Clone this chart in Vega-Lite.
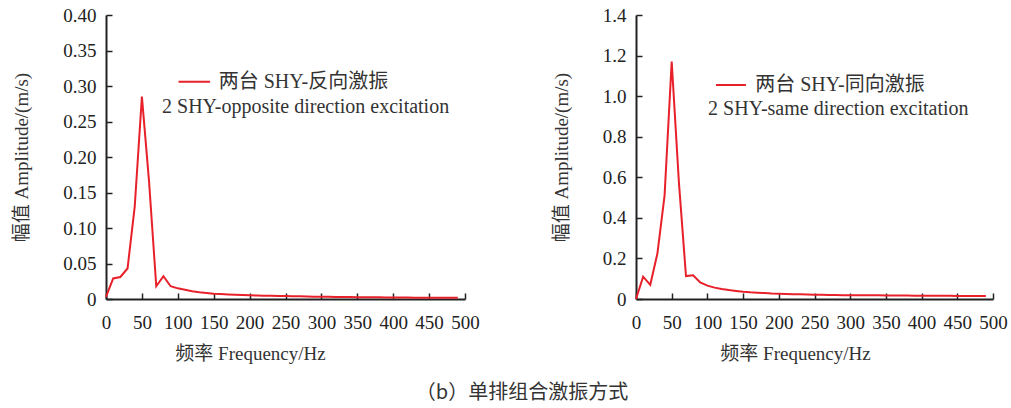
{
  "$schema": "https://vega.github.io/schema/vega-lite/v6.json",
  "background": "white",
  "padding": {"left": 12, "top": 6, "right": 5, "bottom": 5},
  "spacing": 72,
  "datasets": {
    "opp": [
      {"freq": 0, "amp": 0.003}, {"freq": 10, "amp": 0.029}, {"freq": 20, "amp": 0.031}, {"freq": 30, "amp": 0.043},
      {"freq": 40, "amp": 0.13}, {"freq": 50, "amp": 0.285}, {"freq": 60, "amp": 0.165}, {"freq": 70, "amp": 0.018},
      {"freq": 80, "amp": 0.032}, {"freq": 90, "amp": 0.018}, {"freq": 100, "amp": 0.015}, {"freq": 110, "amp": 0.013},
      {"freq": 120, "amp": 0.011}, {"freq": 130, "amp": 0.0095}, {"freq": 140, "amp": 0.0085}, {"freq": 150, "amp": 0.0075},
      {"freq": 160, "amp": 0.007}, {"freq": 170, "amp": 0.0065}, {"freq": 180, "amp": 0.006}, {"freq": 190, "amp": 0.0056},
      {"freq": 200, "amp": 0.0052}, {"freq": 210, "amp": 0.0049}, {"freq": 220, "amp": 0.0047}, {"freq": 230, "amp": 0.0045},
      {"freq": 240, "amp": 0.0043}, {"freq": 250, "amp": 0.0041}, {"freq": 260, "amp": 0.0039}, {"freq": 270, "amp": 0.0037},
      {"freq": 280, "amp": 0.0035}, {"freq": 290, "amp": 0.0033}, {"freq": 300, "amp": 0.0031}, {"freq": 310, "amp": 0.003},
      {"freq": 320, "amp": 0.0029}, {"freq": 330, "amp": 0.0028}, {"freq": 340, "amp": 0.0027}, {"freq": 350, "amp": 0.0026},
      {"freq": 360, "amp": 0.0025}, {"freq": 370, "amp": 0.0024}, {"freq": 380, "amp": 0.0023}, {"freq": 390, "amp": 0.0022},
      {"freq": 400, "amp": 0.0021}, {"freq": 410, "amp": 0.002}, {"freq": 420, "amp": 0.002}, {"freq": 430, "amp": 0.0019},
      {"freq": 440, "amp": 0.0019}, {"freq": 450, "amp": 0.0018}, {"freq": 460, "amp": 0.0018}, {"freq": 470, "amp": 0.0017},
      {"freq": 480, "amp": 0.0017}, {"freq": 490, "amp": 0.0016}
    ],
    "same": [
      {"freq": 0, "amp": 0.0}, {"freq": 10, "amp": 0.11}, {"freq": 20, "amp": 0.07}, {"freq": 30, "amp": 0.225},
      {"freq": 40, "amp": 0.51}, {"freq": 50, "amp": 1.17}, {"freq": 60, "amp": 0.58}, {"freq": 70, "amp": 0.113},
      {"freq": 80, "amp": 0.117}, {"freq": 90, "amp": 0.082}, {"freq": 100, "amp": 0.066}, {"freq": 110, "amp": 0.056},
      {"freq": 120, "amp": 0.049}, {"freq": 130, "amp": 0.044}, {"freq": 140, "amp": 0.04}, {"freq": 150, "amp": 0.036},
      {"freq": 160, "amp": 0.033}, {"freq": 170, "amp": 0.031}, {"freq": 180, "amp": 0.029}, {"freq": 190, "amp": 0.027},
      {"freq": 200, "amp": 0.026}, {"freq": 210, "amp": 0.025}, {"freq": 220, "amp": 0.024}, {"freq": 230, "amp": 0.023},
      {"freq": 240, "amp": 0.022}, {"freq": 250, "amp": 0.021}, {"freq": 260, "amp": 0.021}, {"freq": 270, "amp": 0.02},
      {"freq": 280, "amp": 0.02}, {"freq": 290, "amp": 0.019}, {"freq": 300, "amp": 0.019}, {"freq": 310, "amp": 0.019},
      {"freq": 320, "amp": 0.018}, {"freq": 330, "amp": 0.018}, {"freq": 340, "amp": 0.018}, {"freq": 350, "amp": 0.017},
      {"freq": 360, "amp": 0.017}, {"freq": 370, "amp": 0.017}, {"freq": 380, "amp": 0.017}, {"freq": 390, "amp": 0.016},
      {"freq": 400, "amp": 0.016}, {"freq": 410, "amp": 0.016}, {"freq": 420, "amp": 0.016}, {"freq": 430, "amp": 0.016},
      {"freq": 440, "amp": 0.016}, {"freq": 450, "amp": 0.015}, {"freq": 460, "amp": 0.015}, {"freq": 470, "amp": 0.015},
      {"freq": 480, "amp": 0.015}, {"freq": 490, "amp": 0.015}
    ],
    "oppLegendLine": [{"freq": 101, "freq2": 145, "amp": 0.306}],
    "oppLegendText": [
      {"freq": 157, "amp": 0.306, "label": "两台 SHY-反向激振"},
      {"freq": 78, "amp": 0.27, "label": "2 SHY-opposite direction excitation"}
    ],
    "sameLegendLine": [{"freq": 112, "freq2": 154, "amp": 1.055}],
    "sameLegendText": [
      {"freq": 167, "amp": 1.055, "label": "两台 SHY-同向激振"},
      {"freq": 101, "amp": 0.935, "label": "2 SHY-same direction excitation"}
    ]
  },
  "title": {
    "text": "（b）单排组合激振方式",
    "orient": "bottom",
    "anchor": "middle",
    "font": "Noto Sans CJK SC",
    "fontSize": 20,
    "fontWeight": "normal",
    "color": "#333333",
    "offset": 20,
    "dx": 12
  },
  "hconcat": [
    {
      "width": 359,
      "height": 284,
      "encoding": {
        "x": {"field": "freq", "type": "quantitative", "scale": {"domain": [0, 500], "nice": false},
              "axis": {"title": "频率 Frequency/Hz", "values": [0,50,100,150,200,250,300,350,400,450,500], "titleX": 144,
                       "labelOverlap": false, "labelFont": "Liberation Serif, Times New Roman, serif", "labelFlush": false}},
        "y": {"field": "amp", "type": "quantitative", "scale": {"domain": [0, 0.4], "nice": false},
              "axis": {"title": "幅值 Amplitude/(m/s)", "values": [0,0.05,0.1,0.15,0.2,0.25,0.3,0.35,0.4],
                       "labelOverlap": false, "labelFont": "Liberation Serif, Times New Roman, serif", "labelFlush": false,
                       "labelExpr": "datum.value == 0 ? '0' : format(datum.value, '.2f')"}}
      },
      "layer": [
        {
          "data": {"name": "opp"},
          "mark": {"type": "line", "color": "#e8202a", "strokeWidth": 2}
        },
        {
          "data": {"name": "oppLegendLine"},
          "mark": {"type": "rule", "color": "#e8202a", "strokeWidth": 2},
          "encoding": {"x2": {"field": "freq2"}}
        },
        {
          "data": {"name": "oppLegendText"},
          "mark": {"type": "text", "align": "left", "baseline": "middle", "fontSize": 20, "font": "Liberation Serif, Noto Sans CJK SC, serif", "color": "#333333"},
          "encoding": {"text": {"field": "label"}}
        }
      ]
    },
    {
      "width": 357,
      "height": 284,
      "encoding": {
        "x": {"field": "freq", "type": "quantitative", "scale": {"domain": [0, 500], "nice": false},
              "axis": {"title": "频率 Frequency/Hz", "values": [0,50,100,150,200,250,300,350,400,450,500], "titleX": 159,
                       "labelOverlap": false, "labelFont": "Liberation Serif, Times New Roman, serif", "labelFlush": false}},
        "y": {"field": "amp", "type": "quantitative", "scale": {"domain": [0, 1.4], "nice": false},
              "axis": {"title": "幅值 Amplitude/(m/s)", "values": [0,0.2,0.4,0.6,0.8,1.0,1.2,1.4],
                       "labelOverlap": false, "labelFont": "Liberation Serif, Times New Roman, serif", "labelFlush": false,
                       "labelExpr": "datum.value == 0 ? '0' : format(datum.value, '.1f')"}}
      },
      "layer": [
        {
          "data": {"name": "same"},
          "mark": {"type": "line", "color": "#e8202a", "strokeWidth": 2}
        },
        {
          "data": {"name": "sameLegendLine"},
          "mark": {"type": "rule", "color": "#e8202a", "strokeWidth": 2},
          "encoding": {"x2": {"field": "freq2"}}
        },
        {
          "data": {"name": "sameLegendText"},
          "mark": {"type": "text", "align": "left", "baseline": "middle", "fontSize": 20, "font": "Liberation Serif, Noto Sans CJK SC, serif", "color": "#333333"},
          "encoding": {"text": {"field": "label"}}
        }
      ]
    }
  ],
  "config": {
    "view": {"stroke": null},
    "font": "Liberation Serif, Noto Sans CJK SC, serif",
    "axis": {
      "grid": false,
      "domainColor": "#222222",
      "domainWidth": 2,
      "tickColor": "#222222",
      "tickWidth": 1.5,
      "tickSize": -6,
      "labelFont": "Liberation Serif, Times New Roman, serif",
      "labelFontSize": 19,
      "labelColor": "#222222",
      "titleFont": "Liberation Serif, Noto Sans CJK SC, serif",
      "titleFontSize": 19,
      "titleFontWeight": "normal",
      "titleColor": "#333333"
    },
    "axisX": {"labelPadding": 20, "titlePadding": 12},
    "axisY": {"labelPadding": 16, "titlePadding": 31}
  }
}
